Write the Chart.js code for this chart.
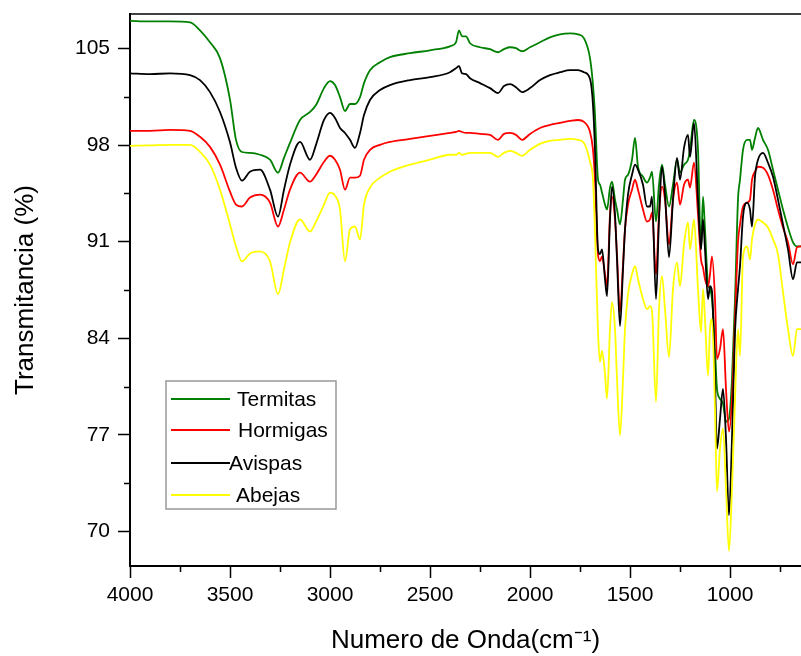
<!DOCTYPE html>
<html><head><meta charset="utf-8">
<script src="https://cdn.jsdelivr.net/npm/chart.js@4/dist/chart.umd.min.js"></script>
<style>html,body{margin:0;padding:0;background:#fff;overflow:hidden}canvas{display:block}</style>
</head><body>
<canvas id="c" width="801" height="656"></canvas>
<script>
const wavenumbers = [4000,3900,3800,3700,3650,3600,3550,3500,3470,3440,3400,3350,3300,3260,3230,3200,3150,3100,3070,3030,3000,2975,2950,2925,2900,2875,2850,2830,2800,2750,2700,2600,2500,2400,2370,2355,2340,2320,2300,2250,2200,2160,2130,2100,2070,2040,2000,1950,1900,1850,1800,1760,1730,
1700,1685,1675,1660,1650,1640,1625,1615,1600,1590,1575,1565,1550,1535,1525,1510,1490,1475,1460,1435,1415,1400,1390,1370,1355,1340,1325,1305,1285,1265,1250,1230,1210,1200,1180,1160,1145,1135,1125,1110,1100,1090,1075,1065,1050,1035,1020,1005,990,975,960,950,935,915,900,890,875,860,835,810,785,760,735,710,685,665,645];

const termitas = [107.0,106.96,106.96,106.9,106.32,105.45,104.3,101.3,98.38,97.5,97.44,97.3,96.94,96.0,97.08,98.16,99.82,100.4,100.9,102.13,102.64,102.35,101.48,100.47,100.98,100.98,101.48,102.49,103.43,104.0,104.37,104.66,104.87,105.16,105.45,106.32,105.88,105.88,105.38,105.09,104.95,104.73,104.95,105.09,105.02,104.8,105.09,105.45,105.81,106.03,106.1,106.03,105.74,
104.3,102.35,100.18,95.49,95.13,94.56,93.69,93.33,94.92,95.35,94.05,93.33,92.25,94.05,95.49,95.85,96.94,98.52,96.43,95.71,95.28,95.64,96.07,92.46,95.13,96.58,95.13,93.55,95.13,96.94,96.0,96.58,96.94,97.66,99.82,97.66,90.44,94.27,91.89,87.92,87.56,86.84,83.23,80.34,79.62,79.26,77.96,78.18,81.06,86.84,94.05,95.49,97.66,98.38,98.38,97.66,98.52,99.24,98.38,97.66,96.22,94.77,93.33,92.03,90.95,90.66,90.66];

const hormigas = [99.03,99.03,99.1,99.03,98.6,97.87,96.58,94.63,93.69,93.55,94.2,94.41,93.83,92.1,93.33,94.77,96.0,95.35,95.85,96.79,97.23,96.94,96.22,94.77,95.64,95.64,95.78,96.94,97.66,98.02,98.23,98.45,98.67,98.88,98.95,99.03,98.95,98.88,98.88,98.81,98.74,98.38,98.81,98.88,98.74,98.38,98.81,99.24,99.46,99.61,99.75,99.82,99.68,
98.96,97.66,95.49,90.08,89.6,89.94,88.64,87.77,92.97,94.27,92.61,90.08,85.9,89.36,91.89,93.69,94.77,95.49,94.77,93.33,92.46,92.61,93.11,88.64,92.97,94.99,94.05,90.8,94.05,95.28,93.69,95.13,95.49,94.92,96.72,92.97,89.72,89.14,88.28,87.77,88.64,89.94,86.84,82.5,83.23,84.67,80.34,77.24,79.62,85.39,90.95,92.25,93.55,93.83,94.05,95.49,96.07,96.43,96.36,95.85,94.77,93.33,92.03,90.95,89.36,90.59,90.66];

const avispas = [103.2,103.14,103.2,103.07,102.71,101.84,100.4,98.2,96.36,95.42,96.07,96.22,94.77,92.82,94.77,96.58,98.23,96.94,98.02,99.82,100.33,99.97,99.24,98.88,98.38,97.8,98.88,100.18,101.27,101.99,102.35,102.71,102.92,103.28,103.57,103.72,103.2,103.14,102.85,102.49,102.13,101.77,102.28,102.42,102.2,101.84,102.13,102.71,103.07,103.28,103.43,103.43,103.28,
102.8,100.9,97.66,90.44,90.1,90.44,88.28,87.05,92.61,94.99,92.97,89.72,84.89,89.0,91.89,94.41,95.85,96.58,96.22,95.13,93.55,93.55,94.27,86.84,92.61,96.43,94.41,89.87,94.05,97.08,95.49,97.8,98.74,97.15,99.61,94.05,90.44,92.61,90.44,86.84,87.77,87.4,81.06,76.01,78.18,80.34,76.74,71.18,76.74,84.45,87.56,89.22,92.82,93.83,93.33,92.1,95.71,96.94,97.44,96.72,95.71,94.05,92.25,90.44,88.28,89.5,89.5];

const abejas = [97.95,97.98,98.02,98.02,97.51,96.58,94.77,92.25,90.66,89.58,90.15,90.3,89.58,87.2,89.0,90.95,92.61,91.74,92.46,93.69,94.56,94.34,93.33,89.58,91.89,92.1,91.17,93.69,94.92,95.64,96.07,96.58,96.94,97.3,97.3,97.44,97.3,97.37,97.44,97.44,97.44,97.15,97.44,97.58,97.44,97.22,97.66,98.09,98.31,98.38,98.45,98.38,98.16,
96.8,95.49,91.67,84.45,82.29,83.08,81.42,79.62,84.67,86.62,84.67,81.06,76.95,81.06,84.67,87.2,88.64,89.22,88.28,86.84,86.11,86.33,85.97,79.4,86.11,88.5,86.11,82.65,87.56,89.5,87.77,90.8,92.39,90.44,92.61,87.56,84.45,87.56,85.39,81.28,84.67,85.39,78.9,72.91,76.01,77.46,73.13,68.58,73.13,79.62,84.67,82.72,89.94,90.66,89.72,91.17,92.25,92.61,92.39,92.03,91.17,90.08,87.34,84.67,82.72,84.67,84.67];

const seriesNames = ['Termitas','Hormigas','Avispas','Abejas'];
const seriesColors = ['#008000','#ff0000','#000000','#ffff00'];
const xMajorTicks = [4000,3500,3000,2500,2000,1500,1000];
const xMinorTicks = [3750,3250,2750,2250,1750,1250,750];
const yMajorTicks = [70,77,84,91,98,105];
const yMinorTicks = [73.5,80.5,87.5,94.5,101.5];

const FONT = "'Liberation Sans', Arial, sans-serif";
const allSeries = [termitas, hormigas, avispas, abejas];

function toPoints(vals){ return wavenumbers.map((w,i)=>({x:w,y:vals[i]})); }

const datasets = allSeries.map((vals,i)=>({
  label: seriesNames[i],
  data: toPoints(vals),
  borderColor: seriesColors[i],
  backgroundColor: seriesColors[i],
  borderWidth: 1.8,
  pointRadius: 0,
  fill: false,
  cubicInterpolationMode: 'monotone',
  order: 3 - i
}));

const framePlugin = {
  id: 'frame',
  afterDraw(chart){
    const ctx = chart.ctx, a = chart.chartArea;
    const xs = chart.scales.x, ys = chart.scales.y;
    ctx.save();
    ctx.strokeStyle = '#000';
    ctx.lineWidth = 1.5;
    ctx.beginPath(); ctx.moveTo(a.left, a.top); ctx.lineTo(a.right, a.top); ctx.stroke();
    xMinorTicks.forEach(v=>{
      const px = Math.round(xs.getPixelForValue(v)) + 0.5;
      ctx.beginPath(); ctx.moveTo(px, a.bottom); ctx.lineTo(px, a.bottom + 6); ctx.stroke();
    });
    yMinorTicks.forEach(v=>{
      const py = Math.round(ys.getPixelForValue(v)) + 0.5;
      ctx.beginPath(); ctx.moveTo(a.left, py); ctx.lineTo(a.left - 6, py); ctx.stroke();
    });
    const bx = 166, by = 381, bw = 170, bh = 128;
    ctx.strokeStyle = '#999';
    ctx.lineWidth = 1.5;
    ctx.fillStyle = '#fff';
    ctx.fillRect(bx, by, bw, bh);
    ctx.strokeRect(bx, by, bw, bh);
    const rowY = [399, 430, 463, 495];
    const textX = [237, 238, 229, 236];
    ctx.font = '21px ' + FONT;
    ctx.textBaseline = 'middle';
    ctx.textAlign = 'left';
    chart.data.datasets.forEach((ds,i)=>{
      ctx.strokeStyle = ds.borderColor;
      ctx.lineWidth = 2;
      ctx.beginPath(); ctx.moveTo(171, rowY[i]); ctx.lineTo(230, rowY[i]); ctx.stroke();
      ctx.fillStyle = '#000';
      ctx.fillText(ds.label, textX[i], rowY[i] + 1);
    });
    ctx.restore();
  }
};

new Chart(document.getElementById('c'), {
  type: 'line',
  data: { datasets },
  options: {
    responsive: false,
    animation: false,
    devicePixelRatio: 1,
    layout: { padding: { top: 14, right: 0, left: 0, bottom: 0 } },
    plugins: { legend: { display: false }, tooltip: { enabled: false } },
    scales: {
      x: {
        type: 'linear',
        reverse: true,
        min: 645, max: 4000,
        afterBuildTicks(s){ s.ticks = xMajorTicks.map(v=>({value:v})); },
        afterFit(s){ s.height = 90; s.paddingLeft = 0; s.paddingRight = 0; },
        ticks: { autoSkip: false, maxRotation: 0, padding: 5, color: '#000', font: { family: FONT, size: 21 }, callback: v => String(v) },
        grid: { display: true, drawOnChartArea: false, drawTicks: true, tickLength: 12, tickWidth: 1.5, tickColor: '#000' },
        border: { display: true, color: '#000', width: 2 },
        title: { display: true, text: 'Numero de Onda(cm\u207B\u00B9)', color: '#000', font: { family: FONT, size: 26 }, padding: { top: 0, bottom: 0 } }
      },
      y: {
        type: 'linear',
        min: 67.5, max: 107.5,
        afterBuildTicks(s){ s.ticks = yMajorTicks.map(v=>({value:v})); },
        afterFit(s){ s.width = 130; s.paddingTop = 0; s.paddingBottom = 0; },
        ticks: { autoSkip: false, padding: 8, color: '#000', font: { family: FONT, size: 21 }, callback: v => String(v) },
        grid: { display: true, drawOnChartArea: false, drawTicks: true, tickLength: 12, tickWidth: 1.5, tickColor: '#000' },
        border: { display: true, color: '#000', width: 2 },
        title: { display: true, text: 'Transmitancia (%)', color: '#000', font: { family: FONT, size: 26 }, padding: { top: 10, bottom: 0 } }
      }
    }
  },
  plugins: [framePlugin]
});
</script>
</body></html>
